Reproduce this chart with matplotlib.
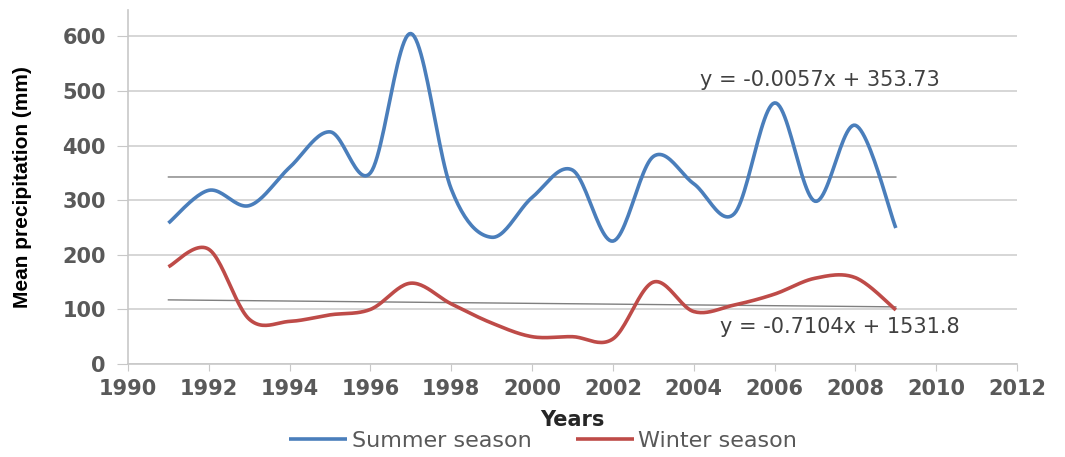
import numpy as np
import matplotlib
matplotlib.use("Agg")
from matplotlib import pyplot as plt

# Mean seasonal precipitation (mm), 1991-2009
years = list(range(1991, 2010))
summer = [258, 318, 290, 360, 425, 350, 605, 320, 232, 305,
          355, 225, 380, 330, 275, 478, 298, 437, 249]
winter = [178, 210, 82, 78, 90, 100, 148, 110, 75, 50,
          50, 46, 150, 96, 108, 128, 157, 158, 99]

# linear trend coefficients (slope, intercept)
summer_trend = (-0.0057, 353.73)
winter_trend = (-0.7104, 1531.8)

x_ticks = list(range(1990, 2013, 2))
y_ticks = list(range(0, 601, 100))


def smooth(xs, ys, steps=24):
    # Catmull-Rom style bezier smoothing, like a spreadsheet "smoothed line"
    p = np.column_stack([xs, ys]).astype(float)
    p = np.vstack([p[0], p, p[-1]])
    out = []
    for i in range(1, len(p) - 2):
        p0, p1, p2, p3 = p[i - 1], p[i], p[i + 1], p[i + 2]
        c1 = p1 + (p2 - p0) / 6.0
        c2 = p2 - (p3 - p1) / 6.0
        t = np.linspace(0, 1, steps, endpoint=False)[:, None]
        seg = ((1 - t) ** 3) * p1 + 3 * ((1 - t) ** 2) * t * c1 \
            + 3 * (1 - t) * t ** 2 * c2 + t ** 3 * p2
        out.append(seg)
    out.append(p[-2][None, :])
    out = np.vstack(out)
    return out[:, 0], out[:, 1]


fig = plt.figure(figsize=(10.65, 4.57), dpi=100)
ax = fig.add_axes([0.1202, 0.2035, 0.8348, 0.7745])

blue = '#4a7ebb'
red = '#be4b48'
grey_txt = '#595959'

sx, sy = smooth(years, summer)
wx, wy = smooth(years, winter)
ax.plot(sx, sy, color=blue, lw=2.6, label='Summer season', zorder=3,
        solid_capstyle='butt')
ax.plot(wx, wy, color=red, lw=2.6, label='Winter season', zorder=3,
        solid_capstyle='butt')

# trend lines
tx = np.array([years[0], years[-1]])
ax.plot(tx, summer_trend[0] * tx + summer_trend[1], color='#7f7f7f',
        lw=1.0, zorder=2)
ax.plot(tx, winter_trend[0] * tx + winter_trend[1], color='#7f7f7f',
        lw=1.0, zorder=2)

ax.text(2004.15, 520, 'y = -0.0057x + 353.73', fontsize=15,
        color='#404040', va='center')
ax.text(2004.65, 68, 'y = -0.7104x + 1531.8', fontsize=15,
        color='#404040', va='center')

ax.set_xlim(1990, 2012)
ax.set_ylim(0, 648)
ax.set_xticks(x_ticks)
ax.set_yticks(y_ticks)
ax.yaxis.grid(True, color='#d0d0d0', lw=1.2)
ax.set_axisbelow(True)

for s in ['top', 'right']:
    ax.spines[s].set_visible(False)
ax.spines['left'].set_color('#c8c8c8')
ax.spines['bottom'].set_color('#c8c8c8')
ax.spines['left'].set_linewidth(1.2)
ax.spines['bottom'].set_linewidth(1.2)

ax.tick_params(axis='x', direction='out', length=5, color='#c8c8c8',
               labelsize=15, labelcolor=grey_txt, pad=6)
ax.tick_params(axis='y', direction='out', length=8, color='#c8c8c8',
               labelsize=15, labelcolor=grey_txt, pad=8)
for lab in ax.get_xticklabels() + ax.get_yticklabels():
    lab.set_fontweight('bold')

ax.set_ylabel('Mean precipitation (mm)', fontsize=15, fontweight='bold',
              family='Liberation Sans', labelpad=22)
ax.set_xlabel('Years', fontsize=15, fontweight='bold', color='#262626',
              labelpad=8)

fig.legend(loc='center', bbox_to_anchor=(0.51, 0.035), ncol=2,
           frameon=False, fontsize=16, handlelength=2.6,
           handletextpad=0.2, columnspacing=2.0, labelcolor=grey_txt)

fig.savefig('out.png', dpi=100)
